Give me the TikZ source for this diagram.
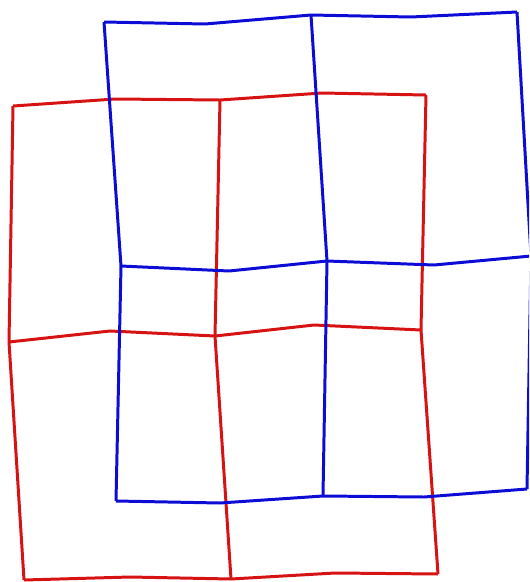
\documentclass[tikz,border=0pt]{standalone}
\usepackage{xcolor}
\usepackage{tikz}
\definecolor{cRed}{RGB}{214,18,18}
\definecolor{cBlue}{RGB}{12,12,214}
\tikzset{
  meshred/.style={draw=cRed, line width=1.7pt, line join=round},
  meshblue/.style={draw=cBlue, line width=1.7pt, line join=round},
}

\begin{document}
\begin{tikzpicture}[x=0.02cm, y=-0.02cm]
  \useasboundingbox (0,0) rectangle (529,582);
  \clip (0,0) rectangle (529,582);

  % red mesh
  \coordinate (r00) at (13,106);
  \coordinate (r01) at (220,100);
  \coordinate (r02) at (426,95);
  \coordinate (r10) at (9,342);
  \coordinate (r11) at (215,336);
  \coordinate (r12) at (421,330);
  \coordinate (r20) at (24,580);
  \coordinate (r21) at (231,579);
  \coordinate (r22) at (438,574);
  \coordinate (rh00) at (115,99);
  \coordinate (rh01) at (322,93);
  \coordinate (rh10) at (110,331);
  \coordinate (rh11) at (314,325);
  \coordinate (rh20) at (130,577);
  \coordinate (rh21) at (335,573);

  % blue mesh
  \coordinate (b00) at (104,22);
  \coordinate (b01) at (311,15);
  \coordinate (b02) at (517,12);
  \coordinate (b10) at (121,266);
  \coordinate (b11) at (327,261);
  \coordinate (b12) at (531,256);
  \coordinate (b20) at (116,501);
  \coordinate (b21) at (323,496);
  \coordinate (b22) at (527,489);
  \coordinate (bh00) at (205,24);
  \coordinate (bh01) at (411,17);
  \coordinate (bh10) at (229,271);
  \coordinate (bh11) at (434,265);
  \coordinate (bh20) at (220,503);
  \coordinate (bh21) at (424,497);

  \foreach \i in {0,1,2}
    \draw[meshred] (r\i0) -- (rh\i0) -- (r\i1) -- (rh\i1) -- (r\i2);
  \foreach \j in {0,1,2}
    \draw[meshred] (r0\j) -- (r1\j) -- (r2\j);

  \foreach \i in {0,1,2}
    \draw[meshblue] (b\i0) -- (bh\i0) -- (b\i1) -- (bh\i1) -- (b\i2);
  \foreach \j in {0,1,2}
    \draw[meshblue] (b0\j) -- (b1\j) -- (b2\j);
\end{tikzpicture}
\end{document}
